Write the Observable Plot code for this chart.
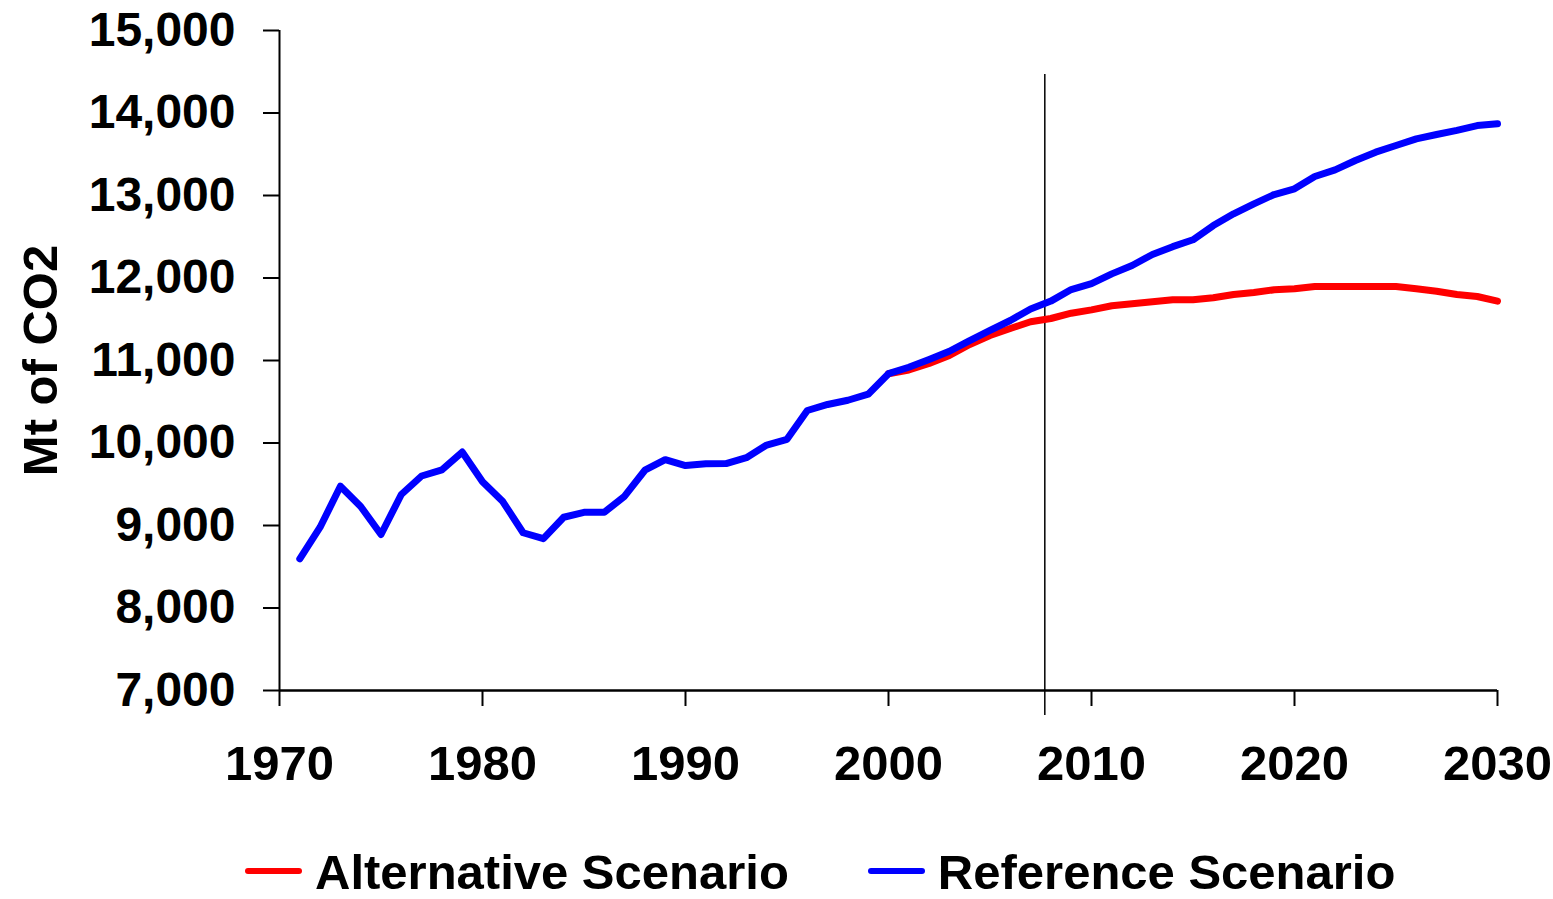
<!DOCTYPE html>
<html>
<head>
<meta charset="utf-8">
<script src="https://cdn.jsdelivr.net/npm/d3@7"></script>
<script src="https://cdn.jsdelivr.net/npm/@observablehq/plot@0.6"></script>
<style>
  html, body { margin: 0; padding: 0; background: #fff; overflow: hidden; }
  body { width: 1553px; height: 899px; font-family: "Liberation Sans", Arial, sans-serif; }
  #chart svg { max-width: none !important; display: block; font-family: "Liberation Sans", Arial, sans-serif; }
  #chart svg text { font-weight: bold; fill: #000; }
  #chart svg [aria-label="y-axis tick label"] text { font-size: 48px; }
  #chart svg [aria-label="x-axis tick label"] text { font-size: 49px; }
  #chart svg [aria-label="y-axis label"] text { font-size: 49px; }
  .legend { display: flex; align-items: flex-start; margin-top: 18px; padding-left: 245px; font-weight: bold; font-size: 49px; line-height: 49px; color: #000; white-space: nowrap; }
  .item { display: flex; align-items: flex-start; }
  .item + .item { margin-left: 79px; }
  .swatch { width: 57px; height: 6px; border-radius: 3px; margin-top: 20px; margin-right: 13px; }
</style>
</head>
<body>
<div id="chart"></div>
<script>
// Reference Scenario (historical + projection), Mt of CO2
const refYears = [1971,1972,1973,1974,1975,1976,1977,1978,1979,1980,
  1981,1982,1983,1984,1985,1986,1987,1988,1989,1990,
  1991,1992,1993,1994,1995,1996,1997,1998,1999,2000,
  2001,2002,2003,2004,2005,2006,2007,2008,2009,2010,
  2011,2012,2013,2014,2015,2016,2017,2018,2019,2020,
  2021,2022,2023,2024,2025,2026,2027,2028,2029,2030];
const refValues = [8596,8979,9476,9230,8891,9376,9600,9675,9890,9530,
  9290,8912,8840,9100,9160,9160,9355,9670,9798,9727,
  9748,9750,9822,9975,10045,10394,10467,10518,10592,10840,
  10918,11012,11112,11242,11364,11485,11625,11720,11860,11932,
  12050,12152,12285,12380,12463,12636,12778,12899,13012,13081,
  13230,13311,13424,13525,13606,13687,13739,13790,13848,13869];

// Alternative Scenario (projection)
const altYears = [2000,2001,2002,2003,2004,2005,2006,2007,2008,2009,2010,
  2011,2012,2013,2014,2015,2016,2017,2018,2019,2020,
  2021,2022,2023,2024,2025,2026,2027,2028,2029,2030];
const altValues = [10840,10885,10964,11061,11194,11303,11388,11470,11509,11573,11614,
  11663,11687,11711,11736,11736,11760,11800,11824,11857,11869,
  11897,11897,11897,11897,11897,11869,11840,11800,11776,11719];

const projectionStart = [2007.7];
const xTicks = [1970, 1980, 1990, 2000, 2010, 2020, 2030];
const yTicks = [7000, 8000, 9000, 10000, 11000, 12000, 13000, 14000, 15000];
const seriesNames = ["Alternative Scenario", "Reference Scenario"];
const seriesColors = ["#ff0000", "#0000ff"];
const yLabel = "Mt of CO2";

const refData = refYears.map((y, i) => ({year: y, value: refValues[i]}));
const altData = altYears.map((y, i) => ({year: y, value: altValues[i]}));

const chart = Plot.plot({
  width: 1553,
  height: 830,
  marginTop: 30,
  marginBottom: 140,
  marginLeft: 279,
  marginRight: 56,
  style: {background: "#fff", color: "#000", overflow: "visible"},
  x: {domain: [1970, 2030]},
  y: {domain: [7000, 15000]},
  marks: [
    Plot.axisY({ticks: yTicks, tickFormat: d3.format(",.0f"), tickSize: 16, tickPadding: 28, strokeWidth: 2,
      label: yLabel, labelAnchor: "center", labelArrow: "none", labelOffset: 257}),
    Plot.axisX({ticks: xTicks, tickFormat: d3.format("d"), tickSize: 16, tickPadding: 39, strokeWidth: 2, label: null}),
    Plot.ruleX([1970], {stroke: "#000", strokeWidth: 2}),
    Plot.ruleY([7000], {stroke: "#000", strokeWidth: 2.5}),
    Plot.ruleX(projectionStart, {stroke: "#000", strokeWidth: 1.5, insetTop: 44, insetBottom: -25}),
    Plot.line(altData, {x: "year", y: "value", stroke: seriesColors[0], strokeWidth: 7}),
    Plot.line(refData, {x: "year", y: "value", stroke: seriesColors[1], strokeWidth: 7})
  ]
});
document.getElementById("chart").appendChild(chart);

const legend = document.createElement("div");
legend.className = "legend";
seriesNames.forEach((name, i) => {
  const item = document.createElement("div");
  item.className = "item";
  const sw = document.createElement("span");
  sw.className = "swatch";
  sw.style.background = seriesColors[i];
  const label = document.createElement("span");
  label.textContent = name;
  item.appendChild(sw);
  item.appendChild(label);
  legend.appendChild(item);
});
document.body.appendChild(legend);
</script>
</body>
</html>
